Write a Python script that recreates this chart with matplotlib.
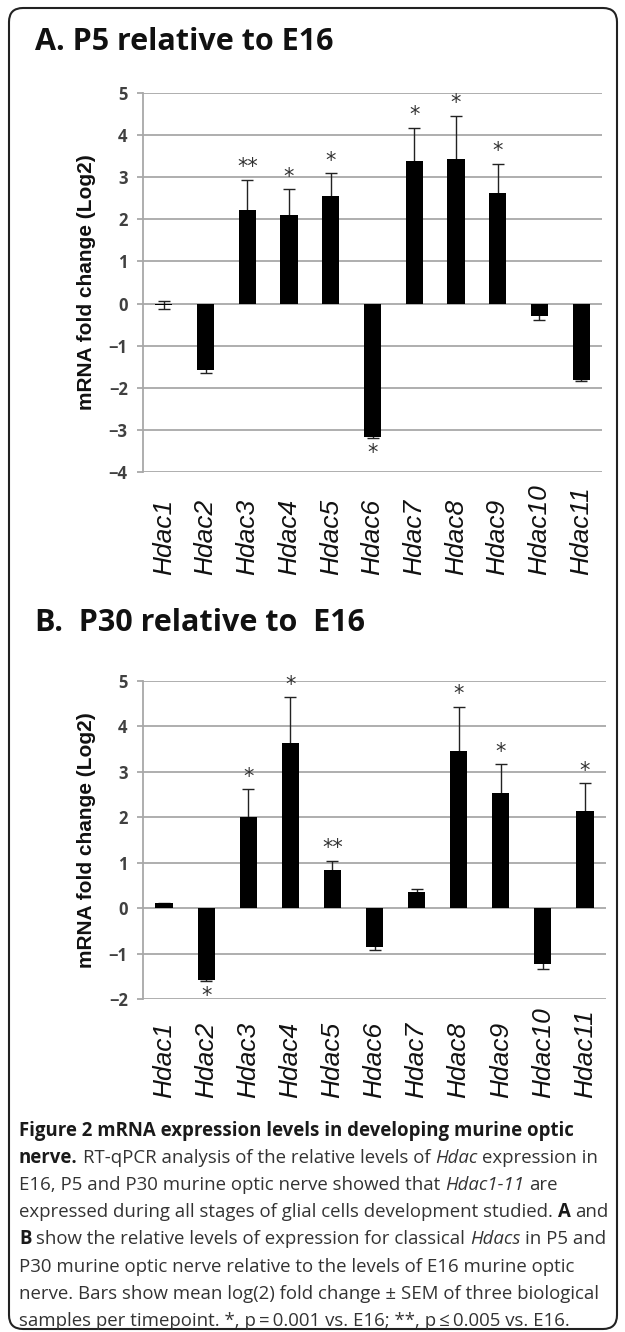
import numpy as np
import matplotlib
matplotlib.use('Agg')
import matplotlib.pyplot as plt
from matplotlib.patches import FancyBboxPatch
from matplotlib.transforms import IdentityTransform

genes = ['Hdac1', 'Hdac2', 'Hdac3', 'Hdac4', 'Hdac5', 'Hdac6',
         'Hdac7', 'Hdac8', 'Hdac9', 'Hdac10', 'Hdac11']

# A. P5 relative to E16 (log2 fold change, SEM)
p5_mean = [-0.04, -1.57, 2.22, 2.10, 2.56, -3.16, 3.39, 3.43, 2.62, -0.29, -1.82]
p5_err = [0.10, 0.07, 0.72, 0.62, 0.54, 0.03, 0.78, 1.03, 0.70, 0.09, 0.03]
p5_stars = ['', '', '**', '*', '*', '*', '*', '*', '*', '', '']

# B. P30 relative to E16
p30_mean = [0.11, -1.58, 2.00, 3.64, 0.85, -0.85, 0.36, 3.46, 2.53, -1.23, 2.14]
p30_err = [0.01, 0.02, 0.62, 1.00, 0.19, 0.08, 0.07, 0.97, 0.64, 0.10, 0.61]
p30_stars = ['', '*', '*', '*', '**', '', '', '*', '*', '', '*']

W, H = 625, 1332
fig = plt.figure(figsize=(W / 100, H / 100), dpi=100)
fig.patch.set_facecolor('white')


def px_axes(left, top, right, bottom):
    return fig.add_axes([left / W, 1 - bottom / H, (right - left) / W, (bottom - top) / H])


def draw_panel(ax, mean, err, stars, ylim, label_off):
    x = np.arange(len(genes))
    ax.errorbar(x, mean, yerr=err, fmt='none', ecolor='#222222', elinewidth=1.0,
                capsize=4, capthick=1.0, zorder=2)
    ax.bar(x, mean, width=0.41, color='black', zorder=3)
    for i, s in enumerate(stars):
        if not s:
            continue
        if mean[i] >= 0:
            ax.annotate(s, (x[i], mean[i] + err[i]), xytext=(0, 9), textcoords='offset points',
                        ha='center', va='center', fontsize=15, color='#333333',
                        family='DejaVu Sans')
        else:
            ax.annotate(s, (x[i], mean[i] - err[i]), xytext=(0, -11), textcoords='offset points',
                        ha='center', va='center', fontsize=15, color='#333333',
                        family='DejaVu Sans')
    ax.set_xlim(-0.5, len(genes) - 0.5)
    ax.set_ylim(*ylim)
    ax.set_yticks(range(ylim[0], ylim[1] + 1))
    ax.yaxis.grid(True, color='#a8a8a8', lw=1.3)
    ax.set_axisbelow(True)
    for sp in ['top', 'right', 'bottom']:
        ax.spines[sp].set_visible(False)
    ax.spines['left'].set_color('#a8a8a8')
    ax.spines['left'].set_linewidth(1.3)
    ax.tick_params(axis='y', length=4, color='#a8a8a8', width=1.3, pad=7,
                   labelsize=12, labelcolor='#404040')
    for lab in ax.get_yticklabels():
        lab.set_fontfamily('Open Sans')
        lab.set_fontweight('bold')
    ax.set_xticks([])
    for i, g in enumerate(genes):
        ax.annotate(g, (i, 0), xycoords=('data', 'axes fraction'), xytext=(0, label_off),
                    textcoords='offset points', rotation=90, ha='center', va='bottom',
                    fontsize=19, fontstyle='italic', family='Liberation Sans',
                    color='#111111', annotation_clip=False)


axA = px_axes(143, 93, 602, 472)
draw_panel(axA, p5_mean, p5_err, p5_stars, (-4, 5), -74)
axB = px_axes(143, 681, 606, 999)
draw_panel(axB, p30_mean, p30_err, p30_stars, (-2, 5), -71)

for yc in [(93 + 472) / 2, (681 + 999) / 2]:
    fig.text(87 / W, 1 - yc / H, 'mRNA fold change (Log2)', rotation=90, ha='center',
             va='center', fontsize=15, fontweight='bold', family='Liberation Sans',
             color='#111111')

fig.text(35 / W, 1 - 50 / H, 'A. P5 relative to E16', fontsize=22, fontweight='bold',
         family='Open Sans', va='baseline', color='#111111')
fig.text(35 / W, 1 - 631 / H, 'B.  P30 relative to  E16', fontsize=22, fontweight='bold',
         family='Open Sans', va='baseline', color='#111111')

# rounded frame
frame = FancyBboxPatch((9, H - 1329), 608, 1321, boxstyle='round,pad=0,rounding_size=14',
                       fill=False, edgecolor='#222222', linewidth=1.5,
                       transform=IdentityTransform())
fig.add_artist(frame)

# caption
caption = [
    [('Figure 2 mRNA expression levels in developing murine optic', 'b')],
    [('nerve.', 'b'), ('RT-qPCR analysis of the relative levels of', 'r'), ('Hdac', 'i'),
     ('expression in', 'r')],
    [('E16, P5 and P30 murine optic nerve showed that', 'r'), ('Hdac1-11', 'i'), ('are', 'r')],
    [('expressed during all stages of glial cells development studied.', 'r'), ('A', 'b'),
     ('and', 'r')],
    [('B', 'b'), ('show the relative levels of expression for classical', 'r'), ('Hdacs', 'i'),
     ('in P5 and', 'r')],
    [('P30 murine optic nerve relative to the levels of E16 murine optic', 'r')],
    [('nerve. Bars show mean log(2) fold change \u00b1 SEM of three biological', 'r')],
    [('samples per timepoint. *, p\u2009=\u20090.001 vs. E16; **, p\u2009\u2264\u20090.005 vs. E16.', 'r')],
]
cap_size = 13.4
styles = {'r': dict(fontweight='normal', fontstyle='normal', color='#333333'),
          'b': dict(fontweight='bold', fontstyle='normal', color='#1a1a1a'),
          'i': dict(fontweight='normal', fontstyle='italic', color='#333333')}
renderer = fig.canvas.get_renderer()


def text_width(s, st):
    t = fig.text(0, 0, s, fontsize=cap_size, family=['Open Sans', 'DejaVu Sans'],
                 transform=IdentityTransform(), **styles[st])
    w = t.get_window_extent(renderer).width
    t.remove()
    return w


space_w = text_width('a a', 'r') - text_width('aa', 'r')
y0 = 1136
for k, line in enumerate(caption):
    xx = 19
    yy = H - (y0 + 27.1 * k)
    for j, (s, st) in enumerate(line):
        t = fig.text(xx, yy, s, fontsize=cap_size, family=['Open Sans', 'DejaVu Sans'],
                     transform=IdentityTransform(), va='baseline', **styles[st])
        xx += t.get_window_extent(renderer).width + space_w

fig.savefig('out.png', dpi=100)
